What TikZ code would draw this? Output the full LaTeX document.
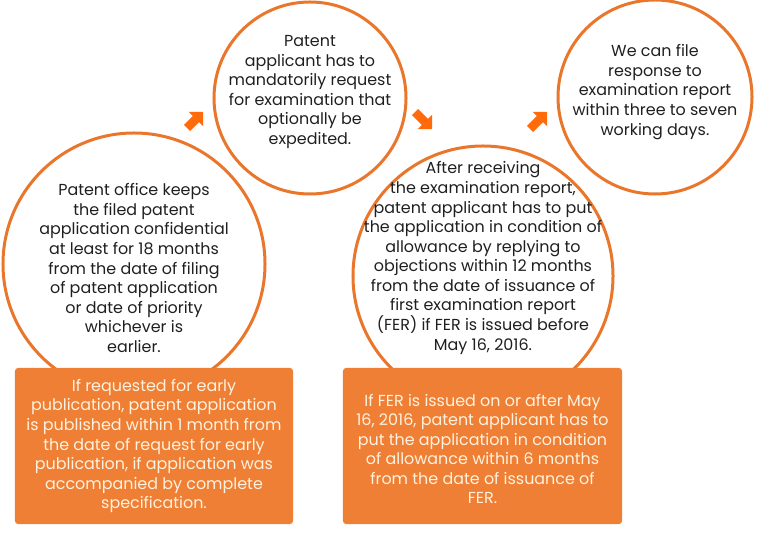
\documentclass[tikz,border=0pt]{standalone}
\usepackage{fontspec}
\setmainfont{Poppins}
\usetikzlibrary{arrows.meta, positioning}
\definecolor{ringorange}{HTML}{E9762B}
\definecolor{boxorange}{HTML}{EE7F35}
\definecolor{arroworange}{HTML}{FF6A0A}
\definecolor{boxtext}{HTML}{FFF2DF}

\begin{document}
\begin{tikzpicture}[
        x=0.03cm, y=-0.03cm,
        ring/.style={circle, draw=ringorange, line width=0.09cm, inner sep=0pt},
        ring_text/.style={align=center, text=black!88, font=\fontsize{13.6}{16.7}\selectfont},
        note/.style={rectangle, rounded corners=0.09cm, fill=boxorange, inner sep=0pt, minimum height=4.68cm},
        note_text/.style={align=center, text=boxtext, font=\fontsize{13.6}{16.7}\selectfont},
        flow/.style={-{Triangle[length=0.3cm, width=0.6cm]}, draw=arroworange, line width=0.26cm}
    ]
    \useasboundingbox (0,0) rectangle (757,541);

    % Circulos de las etapas
    \node[ring, minimum size=7.86cm] (C1) at (134,264) {};
    \node[ring, minimum size=5.76cm] (C2) at (310,98) {};
    \node[ring, minimum size=7.80cm] (C3) at (483,276) {};
    \node[ring, minimum size=5.82cm] (C4) at (655,97) {};

    % Textos de los circulos
    \node[ring_text] (T1) at (134,268) {Patent office keeps\\the filed patent\\application confidential\\at least for 18 months\\from the date of filing\\of patent application\\or date of priority\\whichever is\\earlier.};
    \node[ring_text] (T2) at (310,92) {Patent\\applicant has to\\mandatorily request\\for examination that\\optionally be\\expedited.};
    \node[ring_text] (T3) at (483,258) {After receiving\\the examination report,\\patent applicant has to put\\the application in condition of\\allowance by replying to\\objections within 12 months\\from the date of issuance of\\first examination report\\(FER) if FER is issued before\\May 16, 2016.};
    \node[ring_text] (T4) at (655,92) {We can file\\response to\\examination report\\within three to seven\\working days.};

    % Cajas inferiores (tapan el borde de los circulos)
    \node[note, minimum width=8.34cm] (B1) at (154,446) {};
    \node[note, minimum width=8.37cm] (B2) at (482.5,446) {};
    \node[note_text] (N1) at (B1) {If requested for early\\publication, patent application\\is published within 1 month from\\the date of request for early\\publication, if application was\\accompanied by complete\\specification.};
    \node[note_text] (N2) at (482.5,449) {If FER is issued on or after May\\16, 2016, patent applicant has to\\put the application in condition\\of allowance within 6 months\\from the date of issuance of\\FER.};

    % Flechas entre etapas
    \coordinate (A1-s) at (187,128);
    \coordinate (A1-e) at (203,112);
    \coordinate (A2-s) at (415,112);
    \coordinate (A2-e) at (432,129);
    \coordinate (A3-s) at (530,129);
    \coordinate (A3-e) at (547,112);
    \foreach \i in {1,2,3}
        \draw[flow] (A\i-s) -- (A\i-e);

\end{tikzpicture}
\end{document}
